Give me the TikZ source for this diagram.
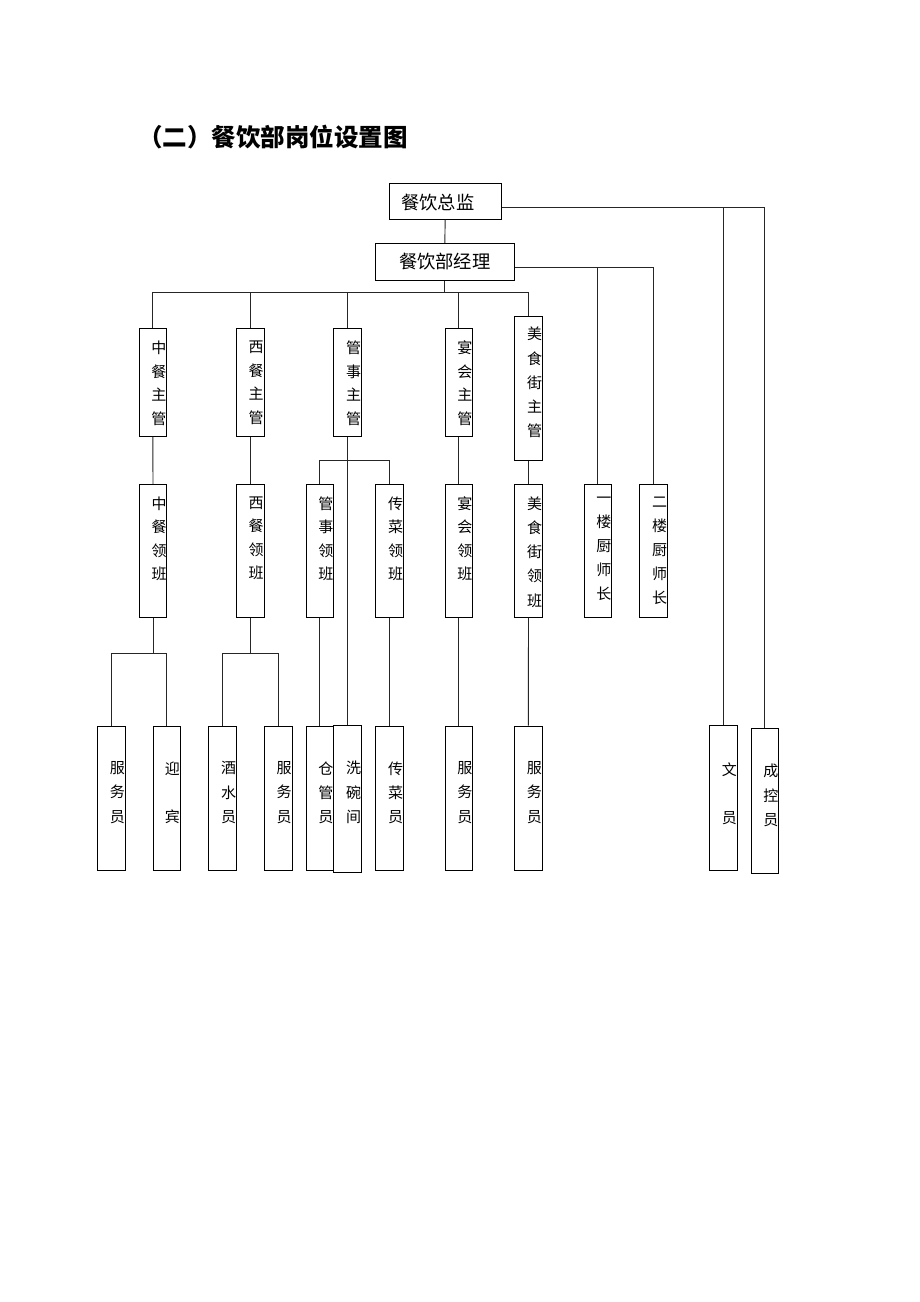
\documentclass[tikz,border=0pt]{standalone}
\usepackage{fontspec}
\newfontfamily\cjk{Noto Sans CJK SC}
\usetikzlibrary{calc}
\begin{document}
\begin{tikzpicture}[x=1pt,y=-1pt,
  ln/.style={line width=0.9pt, draw=black!85},
  box/.style={draw=black, line width=0.9pt, fill=white, inner sep=0pt, minimum width=27.5pt},
  sup/.style={box, minimum height=108pt},
  lead/.style={box, minimum height=132.7pt},
  bot/.style={box, minimum height=144.3pt},
  vt/.style={anchor=north, inner sep=0pt, align=center, font=\cjk\fontsize{15}{24.2}\selectfont},
  vts/.style={vt, font=\cjk\fontsize{15}{23.5}\selectfont},
  ht/.style={inner sep=0pt, font=\cjk\fontsize{18.3}{20}\selectfont}]
\useasboundingbox[fill=white] (0,0) rectangle (920,1302);

% title
\node[anchor=west, inner sep=0pt, font=\cjk\bfseries\fontsize{24.5}{25}\selectfont] (title) at (138,136.7) {（二）餐饮部岗位设置图};

% top boxes
\node[box, minimum width=111.7pt, minimum height=36pt] (zj) at (445.2,201.3) {};
\node[ht, anchor=west] (zjt) at ($(zj.west)+(12,0.8)$) {餐饮总监};
\node[box, ht, draw, fill=white, minimum width=139pt, minimum height=36.7pt] (jl) at (444.8,261.7) {餐饮部经理};

% supervisors
\node[sup] (zc) at (152.8,382.3) {};
\node[sup] (xc) at (250.2,382.3) {};
\node[sup] (gs) at (347.5,382.3) {};
\node[sup] (yh) at (458.8,382.3) {};
\node[box, minimum height=144.7pt] (ms) at (528.5,388.3) {};
\node[vts] at ($(zc.north)+(6,12.9)$) {中\\餐\\主\\管};
\node[vts] at ($(xc.north)+(6,12.9)$) {西\\餐\\主\\管};
\node[vts] at ($(gs.north)+(6,12.9)$) {管\\事\\主\\管};
\node[vts] at ($(yh.north)+(6,12.9)$) {宴\\会\\主\\管};
\node[vt] at ($(ms.north)+(6,11.5)$) {美\\食\\街\\主\\管};

% leaders
\node[lead] (zl) at (153,550.7) {};
\node[lead] (xl) at (250.2,550.7) {};
\node[lead] (gl) at (319.8,550.7) {};
\node[lead] (cl) at (389.5,550.7) {};
\node[lead] (yl) at (458.8,550.7) {};
\node[lead] (ml) at (528.5,550.7) {};
\node[lead] (c1) at (597.8,550.7) {};
\node[lead] (c2) at (653.5,550.7) {};
\node[vts] at ($(zl.north)+(6,12.5)$) {中\\餐\\领\\班};
\node[vts] at ($(xl.north)+(6,12.5)$) {西\\餐\\领\\班};
\node[vts] at ($(gl.north)+(6,12.5)$) {管\\事\\领\\班};
\node[vts] at ($(cl.north)+(6,12.5)$) {传\\菜\\领\\班};
\node[vts] at ($(yl.north)+(6,12.5)$) {宴\\会\\领\\班};
\node[vt] at ($(ml.north)+(6,12.5)$) {美\\食\\街\\领\\班};
\node[vt] at ($(c1.north)+(6,12.5)$) {一\\楼\\厨\\师\\长};
\node[vt] at ($(c2.north)+(6,12.5)$) {二\\楼\\厨\\师\\长};

% bottom row
\node[bot] (b1) at (111.3,798.2) {};
\node[bot] (b2) at (166.8,798.2) {};
\node[bot] (b3) at (222.5,798.2) {};
\node[bot] (b4) at (278.2,798.2) {};
\node[bot] (b5) at (319.8,798.2) {};
\node[box, minimum height=147pt] (xw) at (347.5,799.2) {};
\node[bot] (b7) at (389.5,798.2) {};
\node[bot] (b8) at (458.8,798.2) {};
\node[bot] (b9) at (528.3,798.2) {};
\node[bot] (wy) at (723.3,797.9) {};
\node[box, minimum height=145pt] (ck) at (764.8,800.5) {};
\node[vt] at ($(b1.north)+(6,35.8)$) {服\\务\\员};
\node[vt] at ($(b2.north)+(5.5,35.8)$) {迎\\\mbox{}\\宾};
\node[vt] at ($(b3.north)+(6,35.8)$) {酒\\水\\员};
\node[vt] at ($(b4.north)+(6,35.8)$) {服\\务\\员};
\node[vt] at ($(b5.north)+(6,35.8)$) {仓\\管\\员};
\node[vt] at ($(xw.north)+(6,35.8)$) {洗\\碗\\间};
\node[vt] at ($(b7.north)+(6,35.8)$) {传\\菜\\员};
\node[vt] at ($(b8.north)+(6,35.8)$) {服\\务\\员};
\node[vt] at ($(b9.north)+(6,35.8)$) {服\\务\\员};
\node[vt] at ($(wy.north)+(6,36.8)$) {文\\\mbox{}\\员};
\node[vt] at ($(ck.north)+(6,36.5)$) {成\\控\\员};

% connectors
\draw[ln] (zj.south) -- (jl.north);
\draw[ln] (jl.south) -- ++(0,11.7) coordinate (bus);
\draw[ln] (zc.north) |- (bus);
\draw[ln] (ms.north) |- (bus);
\draw[ln] (xc.north) -- (xc.north |- bus);
\draw[ln] (gs.north) -- (gs.north |- bus);
\draw[ln] (yh.north) -- (yh.north |- bus);
\draw[ln] ($(zj.east)+(0,6)$) coordinate (r1) -| (ck.north);
\draw[ln] (wy.north) -- (wy.north |- r1);
\draw[ln] ($(jl.east)+(0,6)$) coordinate (r2) -| (c2.north);
\draw[ln] (c1.north) -- (c1.north |- r2);
\draw[ln] (zc.south) -- (zl.north);
\draw[ln] (xc.south) -- (xl.north);
\draw[ln] (gs.south) -- (xw.north);
\draw[ln] (gl.north) -- ++(0,-23.6) -| (cl.north);
\draw[ln] (yh.south) -- (yl.north);
\draw[ln] (ms.south) -- (ml.north);
\draw[ln] (zl.south) -- ++(0,36.3) coordinate (j1);
\draw[ln] (b1.north) |- (b2.north |- j1) -- (b2.north);
\draw[ln] (xl.south) -- ++(0,36.3) coordinate (j2);
\draw[ln] (b3.north) |- (b4.north |- j2) -- (b4.north);
\draw[ln] (gl.south) -- (b5.north);
\draw[ln] (cl.south) -- (b7.north);
\draw[ln] (yl.south) -- (b8.north);
\draw[ln] (ml.south) -- (b9.north);
\end{tikzpicture}
\end{document}
